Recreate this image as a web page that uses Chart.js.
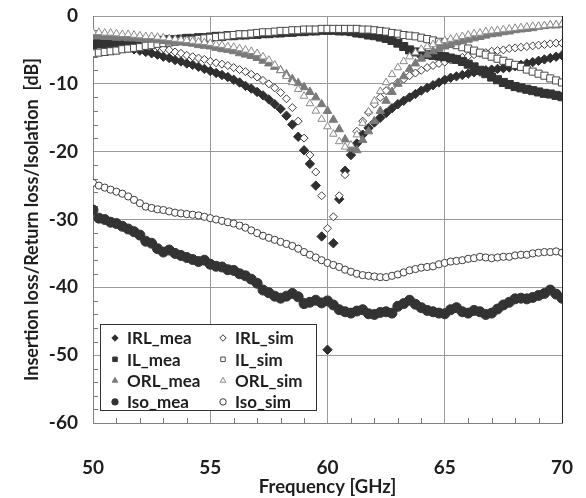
<!DOCTYPE html>
<html>
<head>
<meta charset="utf-8">
<title>Insertion loss / Return loss / Isolation</title>
<script src="https://cdn.jsdelivr.net/npm/chart.js@4.4.0/dist/chart.umd.min.js"></script>
<style>
  html, body { margin: 0; padding: 0; background: #fff; }
  #wrap { width: 586px; height: 498px; }
</style>
</head>
<body>
<div id="wrap"><canvas id="myChart"></canvas></div>
<script>
const freqs = [
  50, 50.25, 50.5, 50.75, 51, 51.25, 51.5, 51.75, 52, 52.25, 52.5, 52.75, 53, 53.25, 53.5, 53.75,
  54, 54.25, 54.5, 54.75, 55, 55.25, 55.5, 55.75, 56, 56.25, 56.5, 56.75, 57, 57.25, 57.5, 57.75,
  58, 58.25, 58.5, 58.75, 59, 59.25, 59.5, 59.75, 60, 60.25, 60.5, 60.75, 61, 61.25, 61.5, 61.75,
  62, 62.25, 62.5, 62.75, 63, 63.25, 63.5, 63.75, 64, 64.25, 64.5, 64.75, 65, 65.25, 65.5, 65.75,
  66, 66.25, 66.5, 66.75, 67, 67.25, 67.5, 67.75, 68, 68.25, 68.5, 68.75, 69, 69.25, 69.5, 69.75, 70
];

const irlMea = [
  -3.8, -3.9, -4.0, -4.1, -4.3, -4.5, -4.7, -4.9, -5.1, -5.3, -5.5, -5.7, -6.0, -6.2, -6.5, -6.7,
  -7.0, -7.2, -7.5, -7.8, -8.1, -8.4, -8.7, -9.0, -9.4, -9.8, -10.3, -10.7, -11.2, -11.7, -12.3, -13.0,
  -13.7, -14.7, -16.0, -17.8, -19.8, -21.8, -25.0, -32.5, -49.2, -33.5, -27.0, -22.8, -20.5, -18.8, -17.5, -16.5,
  -15.7, -15.0, -14.3, -13.6, -13.0, -12.5, -12.0, -11.5, -11.0, -10.6, -10.2, -9.8, -9.4, -9.1, -8.9, -8.7,
  -8.5, -8.3, -8.2, -8.0, -7.9, -7.8, -7.7, -7.6, -7.4, -7.2, -7.0, -6.8, -6.6, -6.4, -6.2, -6.0, -5.8
];
const irlSim = [
  -3.0, -3.0, -3.1, -3.2, -3.3, -3.4, -3.6, -3.7, -3.9, -4.1, -4.3, -4.5, -4.8, -5.0, -5.3, -5.5,
  -5.8, -6.0, -6.2, -6.4, -6.7, -6.9, -7.1, -7.3, -7.6, -7.9, -8.2, -8.6, -9.0, -9.5, -10.0, -10.6,
  -11.3, -12.2, -13.5, -15.5, -18.0, -20.5, -23.0, -26.5, -31.3, -29.6, -26.5, -23.4, -19.5, -17.0, -15.5, -14.2,
  -13.0, -12.0, -11.0, -10.4, -9.8, -9.3, -8.8, -8.4, -8.0, -7.6, -7.3, -7.0, -6.8, -6.5, -6.3, -6.1,
  -5.9, -5.7, -5.5, -5.4, -5.2, -5.1, -5.0, -4.8, -4.7, -4.6, -4.5, -4.4, -4.3, -4.2, -4.1, -4.0, -4.0
];
const ilMea = [
  -4.2, -4.1, -4.1, -4.0, -4.0, -3.9, -3.9, -3.8, -3.8, -3.7, -3.7, -3.6, -3.6, -3.5, -3.5, -3.4,
  -3.3, -3.3, -3.2, -3.2, -3.1, -3.0, -3.0, -2.9, -2.9, -2.8, -2.8, -2.7, -2.7, -2.6, -2.6, -2.5,
  -2.5, -2.4, -2.4, -2.3, -2.3, -2.2, -2.2, -2.1, -2.1, -2.1, -2.2, -2.2, -2.3, -2.5, -2.6, -2.8,
  -2.9, -3.1, -3.3, -3.6, -4.0, -4.5, -5.0, -5.3, -5.5, -5.7, -5.8, -5.9, -6.0, -6.2, -6.4, -6.7,
  -7.1, -7.5, -8.0, -8.5, -9.0, -9.4, -9.8, -10.1, -10.4, -10.6, -10.8, -11.0, -11.2, -11.4, -11.5, -11.7, -11.9
];
const ilSim = [
  -5.5, -5.4, -5.3, -5.2, -5.1, -4.9, -4.8, -4.7, -4.6, -4.4, -4.3, -4.1, -4.0, -3.9, -3.8, -3.7,
  -3.6, -3.5, -3.4, -3.3, -3.2, -3.1, -3.0, -2.9, -2.8, -2.7, -2.7, -2.6, -2.5, -2.4, -2.4, -2.3,
  -2.2, -2.2, -2.1, -2.1, -2.0, -2.0, -2.0, -1.9, -1.9, -1.9, -1.9, -1.9, -1.9, -1.9, -2.0, -2.0,
  -2.1, -2.2, -2.3, -2.5, -2.6, -2.8, -2.9, -3.0, -3.2, -3.4, -3.6, -3.8, -3.9, -4.1, -4.3, -4.6,
  -4.8, -5.1, -5.4, -5.7, -6.0, -6.3, -6.6, -6.9, -7.2, -7.5, -7.9, -8.2, -8.5, -8.8, -9.2, -9.5, -9.8
];
const orlMea = [
  -3.0, -3.0, -3.1, -3.1, -3.2, -3.2, -3.3, -3.3, -3.4, -3.5, -3.5, -3.6, -3.7, -3.8, -3.8, -3.9,
  -4.0, -4.1, -4.3, -4.4, -4.5, -4.7, -4.9, -5.0, -5.2, -5.5, -5.7, -5.9, -6.2, -6.6, -7.0, -7.5,
  -8.0, -8.6, -9.3, -9.9, -10.5, -11.2, -12.0, -13.0, -14.0, -15.3, -16.7, -18.2, -19.5, -19.8, -18.3, -17.0,
  -15.5, -14.0, -12.5, -11.2, -10.0, -8.9, -7.8, -7.0, -6.3, -5.7, -5.2, -4.8, -4.5, -4.2, -3.9, -3.7,
  -3.5, -3.3, -3.1, -2.9, -2.7, -2.6, -2.4, -2.3, -2.1, -2.0, -1.9, -1.8, -1.6, -1.5, -1.4, -1.4, -1.3
];
const orlSim = [
  -2.4, -2.4, -2.5, -2.5, -2.6, -2.7, -2.7, -2.8, -2.9, -3.0, -3.0, -3.1, -3.2, -3.3, -3.4, -3.5,
  -3.6, -3.7, -3.8, -3.9, -4.0, -4.2, -4.3, -4.5, -4.6, -4.8, -5.0, -5.2, -5.5, -6.0, -6.5, -7.2,
  -8.0, -8.9, -9.8, -10.8, -11.8, -12.9, -14.0, -15.2, -16.3, -17.4, -18.5, -19.3, -19.0, -17.5, -15.8, -14.1,
  -12.5, -11.1, -9.8, -8.6, -7.6, -6.7, -6.0, -5.4, -4.9, -4.5, -4.2, -3.9, -3.6, -3.4, -3.2, -3.0,
  -2.8, -2.6, -2.5, -2.3, -2.2, -2.1, -2.0, -1.9, -1.8, -1.7, -1.6, -1.5, -1.5, -1.4, -1.3, -1.3, -1.2
];
const isoMea = [
  -28.6, -29.8, -30.0, -30.4, -30.6, -31.0, -31.4, -31.8, -32.3, -33.2, -33.5, -34.3, -34.8, -34.5, -35.0, -35.3,
  -35.6, -35.9, -36.2, -36.0, -36.6, -36.9, -37.0, -37.4, -37.5, -38.0, -38.3, -38.8, -39.4, -40.4, -40.8, -41.3,
  -41.6, -41.3, -40.9, -41.4, -42.4, -42.2, -41.9, -42.3, -42.0, -42.6, -43.3, -43.6, -43.8, -43.5, -43.3, -43.9,
  -44.0, -43.7, -43.6, -43.8, -42.8, -42.4, -41.9, -42.5, -43.0, -43.4, -43.6, -43.8, -43.9, -43.3, -43.0, -43.6,
  -43.8, -43.4, -43.6, -44.0, -43.8, -43.2, -42.6, -42.2, -41.7, -41.6, -41.7, -41.5, -41.2, -40.9, -40.4, -41.0, -41.6
];
const isoSim = [
  -24.6, -25.0, -25.3, -25.6, -25.9, -26.2, -26.6, -27.1, -27.6, -28.1, -28.3, -28.5, -28.6, -28.8, -29.0, -29.1,
  -29.2, -29.3, -29.4, -29.6, -29.8, -30.0, -30.2, -30.4, -30.6, -30.9, -31.2, -31.6, -32.0, -32.4, -32.7, -33.0,
  -33.3, -33.6, -33.9, -34.3, -34.8, -35.2, -35.6, -36.0, -36.4, -36.7, -37.0, -37.4, -37.7, -38.0, -38.2, -38.3,
  -38.4, -38.5, -38.5, -38.3, -38.1, -37.8, -37.5, -37.3, -37.1, -37.0, -36.9, -36.6, -36.4, -36.2, -36.1, -36.0,
  -35.8, -35.7, -35.5, -35.6, -35.7, -35.6, -35.5, -35.5, -35.3, -35.2, -35.2, -35.0, -34.9, -34.8, -34.8, -34.7, -34.9
];

const seriesNames = ['IRL_mea', 'IRL_sim', 'IL_mea', 'IL_sim', 'ORL_mea', 'ORL_sim', 'Iso_mea', 'Iso_sim'];
const seriesValues = [irlMea, irlSim, ilMea, ilSim, orlMea, orlSim, isoMea, isoSim];
const xTicks = [50, 55, 60, 65, 70];
const yTicks = [0, -10, -20, -30, -40, -50, -60];

// marker look per series (same order as seriesNames)
const markerStyles = [
  { pointStyle: 'rectRot',  radius: 4.7, fill: '#2f2f2f', line: '#2f2f2f' },
  { pointStyle: 'rectRot',  radius: 4.0, fill: '#ffffff', line: '#3c3c3c' },
  { pointStyle: 'rect',     radius: 5.7, fill: '#333333', line: '#333333' },
  { pointStyle: 'rect',     radius: 5.0, fill: '#ffffff', line: '#4a4a4a' },
  { pointStyle: 'triangle', radius: 4.9, fill: '#7a7a7a', line: '#7a7a7a' },
  { pointStyle: 'triangle', radius: 4.4, fill: '#ffffff', line: '#8a8a8a' },
  { pointStyle: 'circle',   radius: 5.0, fill: '#333333', line: '#333333' },
  { pointStyle: 'circle',   radius: 3.6, fill: '#ffffff', line: '#3c3c3c' }
];

const textColor = '#1e1e1e';
const gridColor = '#9a9a9a';

function toPoints(values) {
    return values.map((v, i) => ({ x: freqs[i], y: v }));
}

// inner minor ticks + dark right border, drawn under the markers
const frameAndTicks = {
    id: 'frameAndTicks',
    beforeDatasetsDraw(chart) {
        const { ctx, chartArea: a, scales: { x, y } } = chart;
        ctx.save();
        ctx.strokeStyle = '#7a7a7a';
        ctx.lineWidth = 1;
        ctx.beginPath();
        for (let v = y.min + 2; v < y.max; v += 2) {
            if (v % 10 === 0) continue;
            const py = Math.round(y.getPixelForValue(v)) + 0.5;
            ctx.moveTo(a.left, py);
            ctx.lineTo(a.left + 5, py);
        }
        for (let v = x.min + 1; v < x.max; v += 1) {
            if (v % 5 === 0) continue;
            const px = Math.round(x.getPixelForValue(v)) + 0.5;
            ctx.moveTo(px, a.bottom);
            ctx.lineTo(px, a.bottom - 5);
        }
        ctx.stroke();
        ctx.strokeStyle = '#222';
        ctx.beginPath();
        ctx.moveTo(Math.round(a.right) + 0.5, a.top);
        ctx.lineTo(Math.round(a.right) + 0.5, a.bottom);
        ctx.stroke();
        ctx.restore();
    }
};

// boxed two-column legend sitting inside the plot, lower left
const boxLegend = {
    id: 'boxLegend',
    afterDatasetsDraw(chart) {
        const { ctx, chartArea: a } = chart;
        const bx = Math.round(a.left) + 7;
        const by = Math.round(a.bottom) - 99;
        const bw = 216, bh = 86;
        ctx.save();
        ctx.fillStyle = '#fff';
        ctx.fillRect(bx, by, bw, bh);
        ctx.strokeStyle = '#333';
        ctx.lineWidth = 1;
        ctx.strokeRect(bx + 0.5, by + 0.5, bw, bh);
        ctx.font = 'bold 17px Lato';
        ctx.textBaseline = 'middle';
        ctx.textAlign = 'left';
        seriesNames.forEach((name, i) => {
            const col = i % 2, row = Math.floor(i / 2);
            const mx = bx + 15 + col * 108;
            const my = by + 14 + row * 21.3;
            const st = markerStyles[i];
            ctx.fillStyle = st.fill;
            ctx.strokeStyle = st.line;
            ctx.lineWidth = 1;
            Chart.helpers.drawPoint(ctx, { pointStyle: st.pointStyle, rotation: 0, radius: 3.2, borderWidth: 1 }, mx, my);
            ctx.fillStyle = textColor;
            ctx.fillText(name, mx + 12, my + 1);
        });
        ctx.restore();
    }
};

function renderChart() {
    const ctx = document.getElementById('myChart').getContext('2d');
    const datasets = seriesNames.map((name, i) => ({
        label: name,
        data: toPoints(seriesValues[i]),
        pointStyle: markerStyles[i].pointStyle,
        pointRadius: markerStyles[i].radius,
        pointBackgroundColor: markerStyles[i].fill,
        pointBorderColor: markerStyles[i].line,
        pointBorderWidth: 1,
        showLine: false,
        order: seriesNames.length - i
    }));

    new Chart(ctx, {
        type: 'scatter',
        data: { datasets: datasets },
        options: {
            responsive: true,
            maintainAspectRatio: false,
            animation: false,
            layout: { padding: { top: 16, right: 24, left: 0, bottom: 0 } },
            plugins: {
                legend: { display: false },
                tooltip: { enabled: false }
            },
            scales: {
                x: {
                    type: 'linear',
                    min: 50,
                    max: 70,
                    afterBuildTicks: (scale) => { scale.ticks = xTicks.map(v => ({ value: v })); },
                    afterFit: (scale) => {
                        scale.height = 75;
                        // the tick padding would otherwise be added as overflow on the right
                        scale.paddingLeft = 0;
                        scale.paddingRight = 0;
                    },
                    grid: { color: gridColor, lineWidth: 1, drawTicks: false },
                    border: { color: '#808080', width: 1 },
                    ticks: {
                        padding: 33,
                        color: textColor,
                        font: { family: 'Lato', size: 19, weight: 'bold' },
                        maxRotation: 0
                    },
                    title: {
                        display: true,
                        text: 'Frequency [GHz]',
                        color: textColor,
                        font: { family: 'Lato', size: 18.5, weight: 'bold' },
                        padding: { top: 0, bottom: 0 }
                    }
                },
                y: {
                    type: 'linear',
                    min: -60,
                    max: 0,
                    afterBuildTicks: (scale) => { scale.ticks = yTicks.map(v => ({ value: v })); },
                    afterFit: (scale) => {
                        scale.width = 93;
                        scale.paddingTop = 0;
                        scale.paddingBottom = 0;
                    },
                    grid: { color: gridColor, lineWidth: 1, drawTicks: false },
                    border: { color: '#808080', width: 1 },
                    ticks: {
                        padding: 15,
                        color: textColor,
                        font: { family: 'Lato', size: 19, weight: 'bold' }
                    },
                    title: {
                        display: true,
                        text: 'Insertion loss/Return loss/Isolation  [dB]',
                        color: textColor,
                        font: { family: 'Lato', size: 18, weight: 'bold' },
                        padding: { top: 21, bottom: 0 }
                    }
                }
            }
        },
        plugins: [frameAndTicks, boxLegend]
    });
}

document.addEventListener('DOMContentLoaded', renderChart);
</script>
</body>
</html>
